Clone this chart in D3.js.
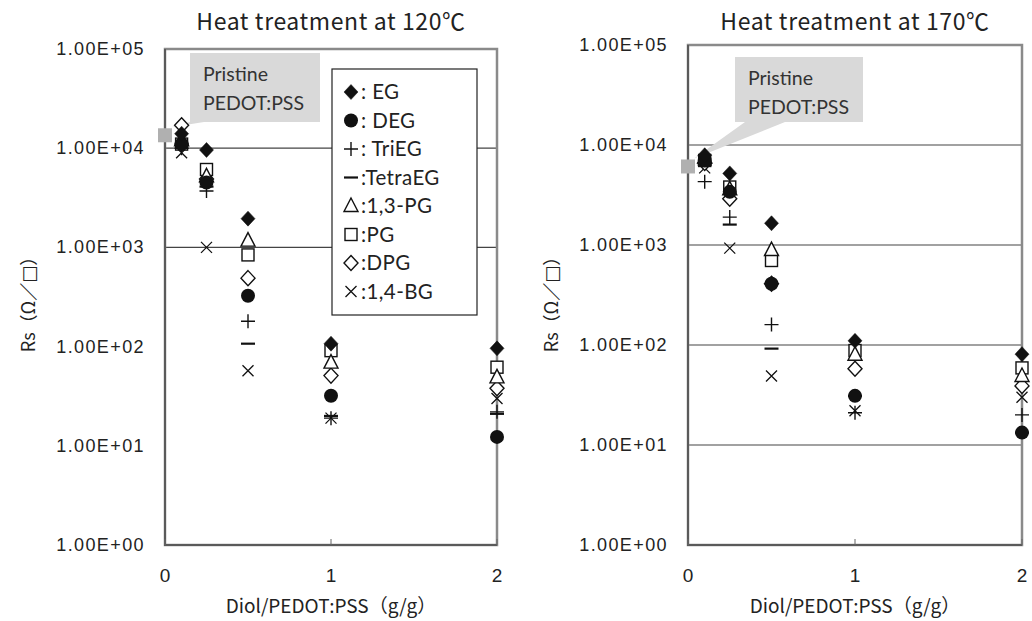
<!DOCTYPE html>
<html>
<head>
<meta charset="utf-8">
<script src="https://cdn.jsdelivr.net/npm/d3@7"></script>
<style>
  body { margin: 0; background: #fff; }
  text { fill: #222; }
</style>
</head>
<body>
<svg id="chart" width="1032" height="621"></svg>
<script>
// x values (Diol/PEDOT:PSS, g/g)
var ratios = [0.1, 0.25, 0.5, 1, 2]
var xTicks = [0, 1, 2]
var yTicks = [1, 10, 100, 1000, 10000, 100000]
var yTickLabels = ["1.00E+00", "1.00E+01", "1.00E+02", "1.00E+03", "1.00E+04", "1.00E+05"]

var seriesNames = ["EG", "DEG", "TriEG", "TetraEG", "1,3-PG", "PG", "DPG", "1,4-BG"]
var legendLabels = [": EG", ": DEG", ": TriEG", ":TetraEG", ":1,3-PG", ":PG", ":DPG", ":1,4-BG"]
var markers = ["diamond", "circle", "plus", "minus", "triangle", "square", "odiamond", "cross"]

// 120 C
var eg120 = [14000, 9600, 1950, 107, 96]
var deg120 = [11000, 4500, 325, 32, 12.3]
var trieg120 = [10000, 3700, 180, 19, 22]
var tetraeg120 = [11000, 4100, 107, 20, 21]
var pg13_120 = [12000, 5200, 1170, 69, 49]
var pg120 = [11000, 6100, 840, 91, 62]
var dpg120 = [17000, 4900, 490, 51, 38]
var bg14_120 = [9000, 1000, 57, 19, 30]
var pristine120 = 13500

// 170 C
var eg170 = [7900, 5200, 1650, 110, 81]
var deg170 = [7000, 3400, 410, 31, 13.3]
var trieg170 = [4300, 1900, 160, 21, 20]
var tetraeg170 = [6300, 1600, 92, 31, 13.3]
var pg13_170 = [7500, 3600, 890, 80, 49]
var pg170 = [7000, 3800, 700, 88, 59]
var dpg170 = [6600, 2900, 410, 58, 39]
var bg14_170 = [5900, 930, 49, 22, 30]
var pristine170 = 6100

var svg = d3.select("#chart")
svg.append("rect").attr("width", 1032).attr("height", 621).attr("fill", "#fff")

function drawMarker(g, type, cx, cy) {
    var m = g.append("g").attr("transform", `translate(${cx},${cy})`)
    if (type == "diamond" || type == "odiamond") {
        m.append("path").attr("d", "M0,-7.5L7,0L0,7.5L-7,0Z")
            .attr("fill", type == "diamond" ? "#111" : "#fff")
            .attr("stroke", "#111").attr("stroke-width", type == "diamond" ? 0.5 : 1.4)
    } else if (type == "circle") {
        m.append("circle").attr("r", 7).attr("fill", "#111")
    } else if (type == "plus") {
        m.append("path").attr("d", "M-7,0H7M0,-7V7").attr("stroke", "#111").attr("stroke-width", 1.4)
    } else if (type == "minus") {
        m.append("path").attr("d", "M-7,0H7").attr("stroke", "#111").attr("stroke-width", 2.2)
    } else if (type == "triangle") {
        m.append("path").attr("d", "M0,-8L7,5.5L-7,5.5Z").attr("fill", "#fff")
            .attr("stroke", "#111").attr("stroke-width", 1.4)
    } else if (type == "square") {
        m.append("rect").attr("x", -6).attr("y", -6).attr("width", 12).attr("height", 12)
            .attr("fill", "#fff").attr("stroke", "#111").attr("stroke-width", 1.4)
    } else if (type == "cross") {
        m.append("path").attr("d", "M-5.5,-5.5L5.5,5.5M5.5,-5.5L-5.5,5.5")
            .attr("stroke", "#111").attr("stroke-width", 1.3)
    }
}

function drawPanel(p) {
    var g = svg.append("g")
    var x = d3.scaleLinear().domain([0, 2]).range([p.left, p.right])
    var y = d3.scaleLog().domain([1, 100000]).range([p.bottom, p.top])

    // title
    g.append("text")
        .attr("x", (p.left + p.right) / 2).attr("y", 30)
        .attr("text-anchor", "middle")
        .style("font-family", "'Noto Sans CJK JP'").style("font-size", "23px")
        .style("letter-spacing", "0.6px")
        .text(p.title)

    // grid lines
    g.selectAll(".grid").data(p.grid).enter().append("line")
        .attr("x1", p.left).attr("x2", p.right)
        .attr("y1", d => y(d)).attr("y2", d => y(d))
        .attr("stroke", "#444").attr("stroke-width", 1.2)

    // frame
    g.append("rect")
        .attr("x", p.left).attr("y", p.top)
        .attr("width", p.right - p.left).attr("height", p.bottom - p.top)
        .attr("fill", "none").attr("stroke", "#8a8a8a").attr("stroke-width", 2.5)
    g.append("path")
        .attr("d", `M${p.left},${p.top}V${p.bottom}H${p.right}`)
        .attr("fill", "none").attr("stroke", "#5a5a5a").attr("stroke-width", 2)

    // y axis labels
    g.selectAll(".ylab").data(yTicks).enter().append("text")
        .attr("x", p.left - 20).attr("y", d => y(d) + 6)
        .attr("text-anchor", "end")
        .style("font-family", "'Liberation Sans'").style("font-size", "18px")
        .style("letter-spacing", "1.4px")
        .text((d, i) => yTickLabels[i])

    // x ticks
    g.selectAll(".xtick").data(xTicks).enter().append("line")
        .attr("x1", d => x(d)).attr("x2", d => x(d))
        .attr("y1", p.bottom).attr("y2", p.bottom - 6)
        .attr("stroke", "#666").attr("stroke-width", 1)
    g.selectAll(".xlab").data(xTicks).enter().append("text")
        .attr("x", d => x(d)).attr("y", p.bottom + 37)
        .attr("text-anchor", "middle")
        .style("font-family", "'Liberation Sans'").style("font-size", "19px")
        .text(d => d)

    // axis titles
    g.append("text")
        .attr("x", (p.left + p.right) / 2).attr("y", 613)
        .attr("text-anchor", "middle")
        .style("font-family", "'Noto Sans CJK JP'").style("font-size", "19px")
        .text("Diol/PEDOT:PSS（g/g）")
    var yt = g.append("text")
        .attr("transform", `translate(${p.left - 130},300) rotate(-90)`)
        .attr("text-anchor", "middle")
        .style("font-family", "'Noto Sans CJK JP'").style("font-size", "18px")
    yt.append("tspan").text("Rs（Ω／")
    yt.append("tspan").style("font-family", "'DejaVu Sans'").text("□")
    yt.append("tspan").text("）")

    // callout
    var px = x(0), py = y(p.pristine)
    g.append("path")
        .attr("d", `M${p.box[0] + p.ptr[0]},${p.box[3]}L${p.box[0] + p.ptr[1]},${p.box[3]}L${px + 6},${py - 8}Z`)
        .attr("fill", "#d9d9d9")
    g.append("rect")
        .attr("x", p.box[0]).attr("y", p.box[1])
        .attr("width", p.box[2] - p.box[0]).attr("height", p.box[3] - p.box[1])
        .attr("fill", "#d9d9d9")
    g.append("text")
        .attr("x", p.box[0] + 13).attr("y", p.box[1] + 28)
        .style("font-family", "Lato").style("font-size", "19.5px").style("fill", "#333")
        .text("Pristine")
    g.append("text")
        .attr("x", p.box[0] + 13).attr("y", p.box[1] + 57)
        .style("font-family", "Lato").style("font-size", "19.5px").style("fill", "#333")
        .text("PEDOT:PSS")
    g.append("rect")
        .attr("x", px - 7).attr("y", py - 7).attr("width", 14).attr("height", 14)
        .attr("fill", "#b0b0b0")

    // legend
    if (p.legend) {
        var lg = g.append("g")
        lg.append("rect")
            .attr("x", 332).attr("y", 69).attr("width", 145).attr("height", 246)
            .attr("fill", "#fff").attr("stroke", "#222").attr("stroke-width", 1.2)
        seriesNames.forEach(function (s, i) {
            var ly = 92 + i * 28.5
            drawMarker(lg, markers[i], 351, ly)
            lg.append("text")
                .attr("x", 361).attr("y", ly + 7)
                .style("font-family", "Lato").style("font-size", "20.5px")
                .style("letter-spacing", "0.4px")
                .text(legendLabels[i])
        })
    }

    // points, last series first so EG sits on top
    var pts = g.append("g")
    for (var k = p.series.length - 1; k >= 0; k--) {
        p.series[k].forEach(function (v, i) {
            drawMarker(pts, markers[k], x(ratios[i]), y(v))
        })
    }
}

drawPanel({
    title: "Heat treatment at 120℃",
    left: 165, right: 497, top: 49, bottom: 545,
    grid: [1000, 10000],
    series: [eg120, deg120, trieg120, tetraeg120, pg13_120, pg120, dpg120, bg14_120],
    pristine: pristine120,
    box: [190, 53, 320, 122], ptr: [0, 14],
    legend: true
})

drawPanel({
    title: "Heat treatment at 170℃",
    left: 688, right: 1022, top: 45, bottom: 545,
    grid: [10, 100, 1000, 10000],
    series: [eg170, deg170, trieg170, tetraeg170, pg13_170, pg170, dpg170, bg14_170],
    pristine: pristine170,
    box: [735, 57, 863, 122], ptr: [10, 50],
    legend: false
})
</script>
</body>
</html>
